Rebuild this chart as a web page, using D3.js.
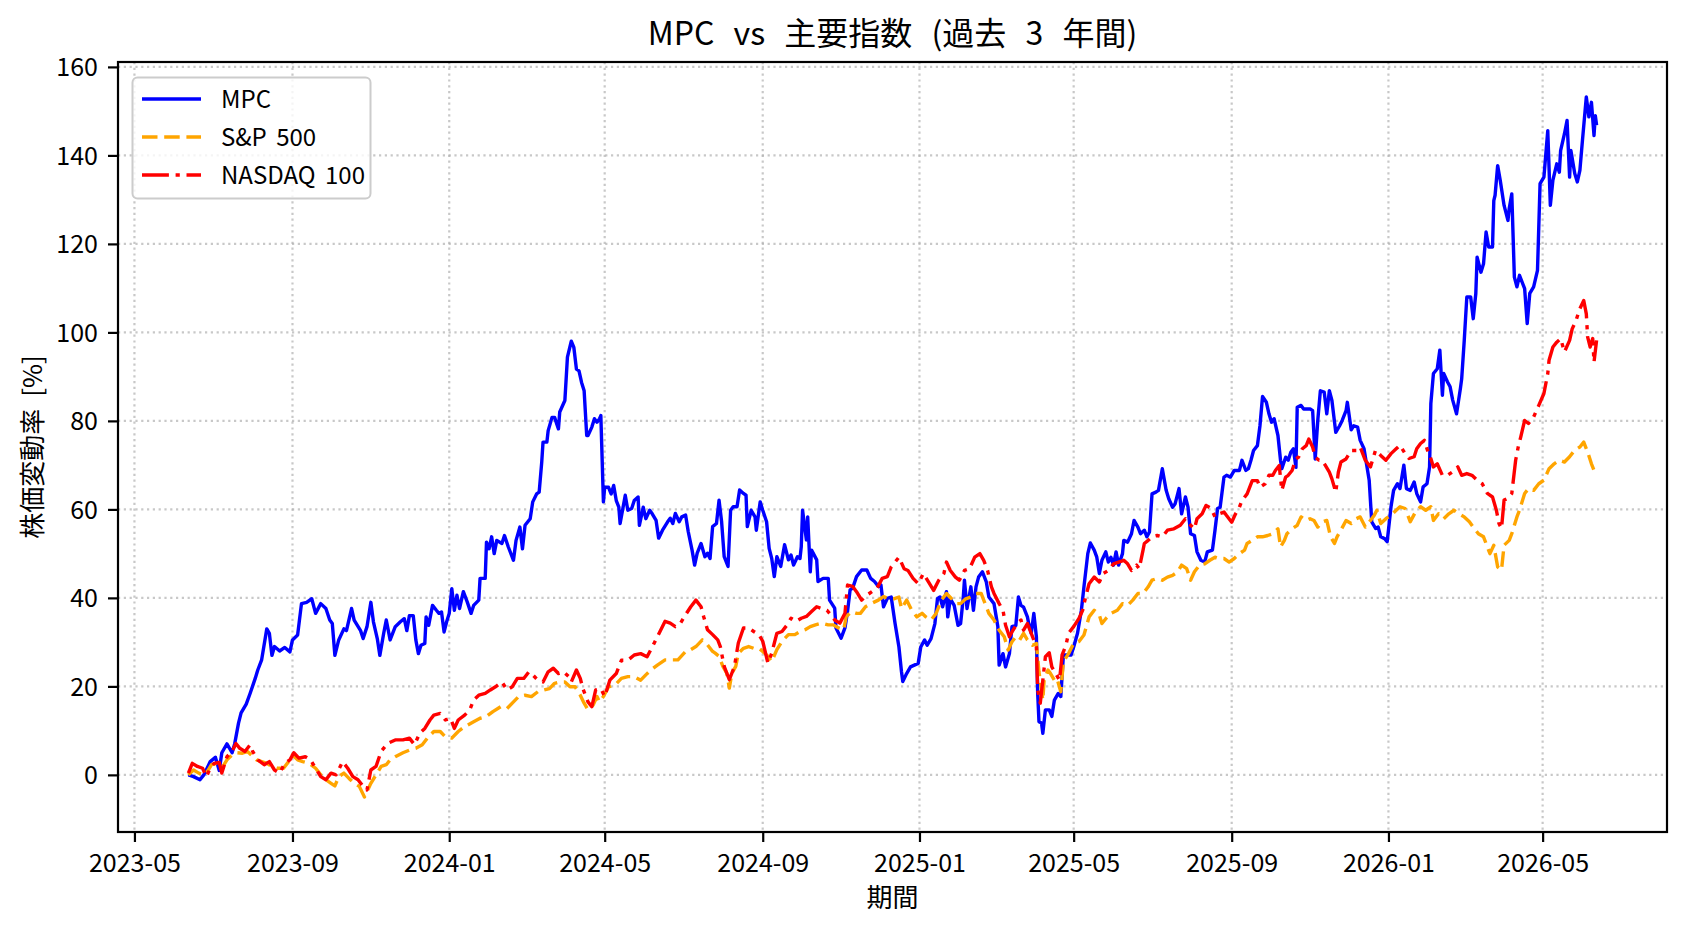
<!DOCTYPE html>
<html><head><meta charset="utf-8">
<script src="https://cdn.jsdelivr.net/npm/d3@7"></script>
<style>body{margin:0;background:#fff}svg{display:block}</style>
</head><body>
<svg id="chart" width="1688" height="932"></svg>
<script>
const titleText = "MPC vs 主要指数 (過去 3 年間)";
const xLabelText = "期間";
const yLabelText = "株価変動率 [%]";
const seriesNames = ["MPC", "S&P 500", "NASDAQ 100"];
const yTickValues = [0, 20, 40, 60, 80, 100, 120, 140, 160];
const xTickDates = ["2023-05-01","2023-09-01","2024-01-01","2024-05-01","2024-09-01","2025-01-01","2025-05-01","2025-09-01","2026-01-01","2026-05-01"];

const mpcData = [
["2023-06-12",0],["2023-06-16",-0.4],["2023-06-21",-1.1],["2023-06-24",0],["2023-06-29",3],["2023-07-03",4],["2023-07-06",1],["2023-07-08",5],["2023-07-12",7],["2023-07-16",5],["2023-07-18",7],["2023-07-21",11.7],["2023-07-23",14],["2023-07-27",16],["2023-07-30",18.4],["2023-08-03",21.8],["2023-08-05",23.7],["2023-08-08",26],["2023-08-12",33],["2023-08-14",32],["2023-08-16",27],["2023-08-18",29],["2023-08-22",28],["2023-08-26",28.8],["2023-08-30",27.8],["2023-09-01",30.5],["2023-09-05",31.6],["2023-09-08",38.7],["2023-09-12",39],["2023-09-16",39.8],["2023-09-19",36.5],["2023-09-23",38.7],["2023-09-27",37.6],["2023-09-30",35],["2023-10-02",34.2],["2023-10-04",27],["2023-10-07",30.5],["2023-10-11",33],["2023-10-13",32.6],["2023-10-17",37.6],["2023-10-19",35],["2023-10-24",32.6],["2023-10-26",30.8],["2023-10-29",33.5],["2023-11-01",39],["2023-11-03",34.6],["2023-11-06",30.8],["2023-11-08",27],["2023-11-11",32],["2023-11-13",35],["2023-11-16",30.5],["2023-11-20",33.5],["2023-11-24",34.6],["2023-11-27",35.3],["2023-11-29",32.6],["2023-12-01",36],
["2023-12-04",36],["2023-12-06",30.5],["2023-12-08",27.4],["2023-12-10",29.3],["2023-12-13",29.7],["2023-12-14",35.7],["2023-12-16",33.8],["2023-12-19",38.3],["2023-12-22",37.2],["2023-12-24",36.5],["2023-12-26",36.8],["2023-12-28",32.3],["2023-12-30",34.6],["2024-01-01",36.5],["2024-01-03",42.1],["2024-01-05",37.2],["2024-01-07",40.6],["2024-01-09",37.6],["2024-01-12",41.4],["2024-01-15",39.1],["2024-01-18",36.5],["2024-01-20",38.3],["2024-01-24",39.5],["2024-01-25",44.4],["2024-01-29",44.4],["2024-01-30",52.6],["2024-02-01",51.1],["2024-02-03",53.8],["2024-02-05",50],["2024-02-07",53],["2024-02-11",52.3],["2024-02-13",54.1],["2024-02-16",51.5],["2024-02-20",48.5],["2024-02-22",53],["2024-02-25",56],["2024-02-27",51.1],["2024-02-29",56.4],["2024-03-04",57.9],["2024-03-06",61.7],["2024-03-09",63.5],["2024-03-11",63.9],["2024-03-13",70.7],["2024-03-14",75.2],["2024-03-17",75.2],["2024-03-18",77.8],["2024-03-21",80.8],["2024-03-23",80.8],["2024-03-26",78.2],["2024-03-27",82],["2024-03-31",84.6],["2024-04-02",94.4],["2024-04-05",98],["2024-04-07",96.6],["2024-04-09",91.7],["2024-04-11",91.3],["2024-04-13",88.7],["2024-04-15",86.8],["2024-04-17",76.7],["2024-04-18",76.7],["2024-04-21",78.6],["2024-04-23",80.5],["2024-04-25",79.7],["2024-04-27",80.5],["2024-04-28",81.2],["2024-04-30",61.7],["2024-05-01",65],["2024-05-04",65],["2024-05-06",63.5],["2024-05-08",65.4],["2024-05-10",62],["2024-05-12",60.5],["2024-05-13",56.8],["2024-05-17",63.2],["2024-05-19",59.8],["2024-05-22",60.2],["2024-05-24",62],["2024-05-27",62.8],["2024-05-28",56.4],["2024-05-31",60.5],["2024-06-02",57.9],["2024-06-05",59.8],["2024-06-07",59],["2024-06-10",57.5],
["2024-06-12",53.5],["2024-06-15",55.3],["2024-06-19",57.2],["2024-06-21",58],["2024-06-23",56.8],["2024-06-25",59.1],["2024-06-28",57.2],["2024-06-30",58.3],["2024-07-03",58.7],["2024-07-05",55],["2024-07-08",50.8],["2024-07-10",47.4],["2024-07-12",50.1],["2024-07-15",52.3],["2024-07-18",49.3],["2024-07-20",50.1],["2024-07-22",48.9],["2024-07-24",56.1],["2024-07-27",56.8],["2024-07-29",62.1],["2024-07-31",57.2],["2024-08-02",49.3],["2024-08-05",47.1],["2024-08-07",59.8],["2024-08-09",60.6],["2024-08-12",60.6],["2024-08-14",64.4],["2024-08-17",63.6],["2024-08-19",63.2],["2024-08-20",56.1],["2024-08-23",59.8],["2024-08-26",58.3],["2024-08-27",55.3],["2024-08-30",61.7],["2024-09-01",59.8],["2024-09-04",57.2],["2024-09-06",51.2],["2024-09-08",48.9],["2024-09-10",44.8],["2024-09-12",49.3],["2024-09-15",47.1],["2024-09-18",52],["2024-09-21",48.6],["2024-09-23",49.7],["2024-09-25",47.4],["2024-09-28",49.3],["2024-09-30",48.9],["2024-10-01",51.6],["2024-10-02",59.8],["2024-10-05",53.1],["2024-10-06",58.3],["2024-10-08",45.9],["2024-10-09",50.8],["2024-10-13",48.6],["2024-10-14",43.7],["2024-10-18",44.4],["2024-10-22",44.4],["2024-10-23",39.5],["2024-10-27",37.7],["2024-10-28",33.2],["2024-11-01",30.9],["2024-11-04",33.2],["2024-11-06",36.9],["2024-11-08",41.8],["2024-11-10",42.2],["2024-11-13",44.8],["2024-11-17",46.3],["2024-11-21",46.3],["2024-11-24",44.4],["2024-11-27",43.7],["2024-11-30",42.6],["2024-12-02",42.9],["2024-12-04",38],["2024-12-07",39.9],
["2024-12-10",40.2],["2024-12-13",34.2],["2024-12-16",28.9],["2024-12-18",23.3],["2024-12-19",21.1],["2024-12-22",22.9],["2024-12-25",24.4],["2024-12-28",24.8],["2024-12-31",25.2],["2025-01-02",28.9],["2025-01-05",30.5],["2025-01-07",29.3],["2025-01-10",30.8],["2025-01-13",34.2],["2025-01-15",39.8],["2025-01-17",40.2],["2025-01-19",38],["2025-01-22",41.4],["2025-01-23",35.7],["2025-01-25",39.8],["2025-01-28",38.3],["2025-01-31",33.8],["2025-02-02",34.2],["2025-02-04",39.8],["2025-02-05",44],["2025-02-07",37.6],["2025-02-10",42.5],["2025-02-12",37.2],["2025-02-14",42.5],["2025-02-16",44.7],["2025-02-19",45.9],["2025-02-22",43.6],["2025-02-24",40.2],["2025-02-28",38.7],["2025-03-03",33.5],["2025-03-04",24.8],["2025-03-07",27.4],["2025-03-09",24.4],["2025-03-12",27.4],["2025-03-14",33.5],["2025-03-17",33.8],["2025-03-19",40.2],["2025-03-21",38.3],["2025-03-23",37.9],["2025-03-26",35.7],["2025-03-27",34.2],["2025-03-29",32],["2025-03-31",36.5],["2025-04-02",31.2],["2025-04-03",18.4],["2025-04-04",12],["2025-04-06",11.7],["2025-04-07",9.4],["2025-04-09",14.7],["2025-04-12",14.7],["2025-04-14",13.2],["2025-04-16",16.9],["2025-04-19",18.4],["2025-04-21",17.7],["2025-04-23",27.1],["2025-04-26",27.1],["2025-04-29",27.1],["2025-05-01",28.9],["2025-05-04",32],["2025-05-07",37.2],["2025-05-09",42.5],["2025-05-12",50],["2025-05-14",52.4],["2025-05-17",50.8],["2025-05-19",49.2],["2025-05-21",45.5],["2025-05-23",48.5],["2025-05-26",50.4],["2025-05-28",48.1],["2025-05-30",49.2],["2025-06-01",47.4],["2025-06-03",50.4],["2025-06-05",47.4],["2025-06-08",50],["2025-06-09",53],
["2025-06-12",52.6],["2025-06-15",54.5],["2025-06-17",57.5],["2025-06-20",56],["2025-06-22",54.5],["2025-06-25",55.3],["2025-06-27",53.8],["2025-06-29",54.9],["2025-07-01",63.5],["2025-07-04",63.9],["2025-07-06",64.3],["2025-07-09",69.2],["2025-07-12",64.3],["2025-07-14",62.4],["2025-07-17",60.5],["2025-07-19",61.3],["2025-07-22",64.7],["2025-07-24",59],["2025-07-27",62.8],["2025-07-29",60.5],["2025-07-31",54.5],["2025-08-03",54.1],["2025-08-05",50.4],["2025-08-08",48.5],["2025-08-11",48.1],["2025-08-13",50.4],["2025-08-17",50.8],["2025-08-19",55.3],["2025-08-21",60.2],["2025-08-23",60.5],["2025-08-26",67.3],["2025-08-28",67.7],["2025-08-31",67.3],["2025-09-03",68.8],["2025-09-07",68.8],["2025-09-09",71.1],["2025-09-12",68.8],["2025-09-14",69.2],["2025-09-16",71.1],["2025-09-18",73.3],["2025-09-21",74.4],["2025-09-23",78.9],["2025-09-25",85.5],["2025-09-28",84.2],["2025-09-30",81.6],["2025-10-02",79.7],["2025-10-04",80.5],["2025-10-07",76.7],["2025-10-09",71.1],["2025-10-10",69.2],["2025-10-13",71.8],["2025-10-15",71.1],["2025-10-17",72.9],["2025-10-19",73.7],["2025-10-21",69.5],["2025-10-22",83.1],["2025-10-25",83.5],["2025-10-27",82.7],["2025-10-30",82.7],["2025-11-01",82.7],["2025-11-03",82.3],["2025-11-05",71.4],["2025-11-07",80.1],["2025-11-09",86.8],["2025-11-12",86.5],["2025-11-14",81.6],["2025-11-16",86.8],["2025-11-18",84.6],["2025-11-21",77.4],["2025-11-24",78.9],["2025-11-26",80.1],["2025-11-29",82.3],["2025-11-30",84.2],["2025-12-03",78],["2025-12-05",78.9],["2025-12-08",78.6],["2025-12-10",75.6],["2025-12-13",73.7],
["2025-12-17",66.6],["2025-12-19",57.2],["2025-12-22",55.7],["2025-12-24",56],["2025-12-26",53.8],["2025-12-29",53.4],["2025-12-31",52.7],["2026-01-01",55.3],["2026-01-03",60.6],["2026-01-05",64.3],["2026-01-08",65.8],["2026-01-10",64.7],["2026-01-13",70],["2026-01-15",64.7],["2026-01-18",64.3],["2026-01-21",66.2],["2026-01-23",63.6],["2026-01-26",61.7],["2026-01-28",65.1],["2026-01-31",65.8],["2026-02-02",69.6],["2026-02-03",83.9],["2026-02-05",90.7],["2026-02-08",91.8],["2026-02-10",96],["2026-02-12",85.8],["2026-02-13",90.7],["2026-02-16",88.8],["2026-02-18",87.7],["2026-02-20",84.7],["2026-02-23",81.6],["2026-02-26",87.3],["2026-02-27",89.5],["2026-03-01",98.2],["2026-03-03",108],["2026-03-06",108],["2026-03-08",103.1],["2026-03-10",108.8],["2026-03-11",117],["2026-03-14",113.6],["2026-03-16",115.5],["2026-03-18",122.7],["2026-03-20",119.3],["2026-03-23",119.3],["2026-03-24",129.8],["2026-03-25",131],["2026-03-27",137.7],["2026-03-29",134.4],["2026-04-01",128.7],["2026-04-04",125.3],["2026-04-05",128],["2026-04-07",131.3],["2026-04-09",112.5],["2026-04-11",110.3],["2026-04-13",112.9],["2026-04-17",109.9],["2026-04-19",102],["2026-04-21",108.8],["2026-04-24",110.3],["2026-04-27",114],["2026-04-29",133.6],["2026-05-02",135.1],["2026-05-05",145.6],["2026-05-07",128.7],["2026-05-09",134.4],["2026-05-12",138.1],["2026-05-14",136.2],["2026-05-15",141.1],["2026-05-18",144.9],["2026-05-20",147.9],["2026-05-22",135.1],["2026-05-23",141.1],["2026-05-26",135.9],["2026-05-28",134],["2026-05-30",136.6],["2026-06-01",143.4],["2026-06-04",153.2],["2026-06-06",148.7],["2026-06-08",152],["2026-06-10",144.5],["2026-06-11",149],["2026-06-12",146.8]
];

const spData = [
["2023-06-12",0],["2023-06-16",1.1],["2023-06-20",0.4],["2023-06-24",0],["2023-06-26",0.4],["2023-06-30",2.3],["2023-07-04",2.6],["2023-07-08",1.5],["2023-07-12",3.4],["2023-07-16",4.5],["2023-07-20",5],["2023-07-24",4.9],["2023-07-28",5.3],["2023-07-31",4.5],["2023-08-04",3.4],["2023-08-08",3],["2023-08-12",2.6],["2023-08-16",1.9],["2023-08-20",1.5],["2023-08-25",1.5],["2023-08-29",3],["2023-09-01",4.5],["2023-09-05",3.4],["2023-09-09",3],["2023-09-14",2.6],["2023-09-19",1.5],["2023-09-23",0],["2023-09-27",-1.1],["2023-10-01",-1.9],["2023-10-04",-2.5],["2023-10-07",-0.4],["2023-10-11",0.4],["2023-10-15",-0.8],["2023-10-19",-1.9],["2023-10-23",-2.6],["2023-10-27",-5],["2023-10-29",-3.8],["2023-11-01",-1.9],["2023-11-05",0],["2023-11-09",1.9],["2023-11-13",2.3],["2023-11-16",3.4],["2023-11-20",4.1],["2023-11-26",5],["2023-12-01",5.6],
["2023-12-06",6],["2023-12-11",6.8],["2023-12-15",8.3],["2023-12-20",9.8],["2023-12-25",9.8],["2023-12-29",8.6],["2024-01-03",8.3],["2024-01-08",9.8],["2024-01-13",10.9],["2024-01-20",12],["2024-01-25",12.8],["2024-01-30",13.2],["2024-02-04",14.3],["2024-02-10",15.4],["2024-02-15",15],["2024-02-20",16.5],["2024-02-24",17.7],["2024-02-29",18],["2024-03-05",17.7],["2024-03-10",18.8],["2024-03-15",19.2],["2024-03-19",19.5],["2024-03-23",20.7],["2024-03-27",21],["2024-03-31",21],["2024-04-04",19.9],["2024-04-08",19.9],["2024-04-12",18],["2024-04-15",16.2],["2024-04-18",14.7],["2024-04-22",15.8],["2024-04-25",17.7],["2024-04-27",16.5],["2024-04-30",17.7],["2024-05-04",19.9],["2024-05-09",20.3],["2024-05-14",21.8],["2024-05-19",22.2],["2024-05-24",22.2],["2024-05-29",21.4],["2024-06-02",22.6],["2024-06-06",23.7],["2024-06-11",24.8],
["2024-06-17",26],["2024-06-22",26],["2024-06-27",26],["2024-07-03",27.9],["2024-07-07",28.3],["2024-07-11",29],["2024-07-16",30.5],["2024-07-20",29.4],["2024-07-24",27.9],["2024-07-26",27.5],["2024-07-29",26.8],["2024-08-01",24.5],["2024-08-04",23],["2024-08-06",19.6],["2024-08-08",23],["2024-08-11",24.5],["2024-08-13",27.5],["2024-08-17",28.6],["2024-08-21",29],["2024-08-25",28.6],["2024-08-29",28.6],["2024-09-01",27.9],["2024-09-05",26.8],["2024-09-08",25.6],["2024-09-12",28.3],["2024-09-16",30.2],["2024-09-21",31.7],["2024-09-26",31.7],["2024-09-30",32.4],["2024-10-04",32.8],["2024-10-08",33.5],["2024-10-12",33.9],["2024-10-17",34.3],["2024-10-22",33.9],["2024-10-26",33.9],["2024-10-30",33.2],["2024-11-03",32.8],["2024-11-05",35.8],["2024-11-09",36.9],["2024-11-13",36.5],["2024-11-16",36.5],["2024-11-20",38],["2024-11-25",38.8],["2024-11-30",39.5],["2024-12-04",40.3],
["2024-12-08",39.8],["2024-12-12",39.8],["2024-12-16",40.2],["2024-12-18",37.6],["2024-12-22",39.5],["2024-12-26",37.2],["2024-12-30",35.7],["2025-01-03",36.5],["2025-01-06",35.7],["2025-01-10",35],["2025-01-14",36.5],["2025-01-18",39.5],["2025-01-22",41],["2025-01-26",39.8],["2025-01-30",38.7],["2025-02-02",38.7],["2025-02-06",39.8],["2025-02-10",40.2],["2025-02-14",41],["2025-02-18",41],["2025-02-20",39.5],["2025-02-24",36.5],["2025-02-28",35],["2025-03-04",32.7],["2025-03-08",31.2],["2025-03-11",28.2],["2025-03-14",30.1],["2025-03-17",31.2],["2025-03-20",30.5],["2025-03-23",32],["2025-03-26",30.5],["2025-03-30",29.3],["2025-04-02",29.7],["2025-04-04",23.3],["2025-04-07",16.9],["2025-04-08",21.4],["2025-04-11",23.7],["2025-04-13",22.9],["2025-04-16",21.4],["2025-04-18",21.8],["2025-04-21",18.8],["2025-04-23",25.6],["2025-04-27",27.4],["2025-05-01",29.7],["2025-05-05",30.1],["2025-05-09",31.6],["2025-05-13",35.7],["2025-05-17",37.2],["2025-05-21",36.1],["2025-05-23",34.2],["2025-05-26",35.3],["2025-05-30",36.5],["2025-06-04",37.2],["2025-06-08",38.7],
["2025-06-12",38.3],["2025-06-16",39.5],["2025-06-20",41],["2025-06-24",41],["2025-06-28",42.5],["2025-07-01",44],["2025-07-05",44.4],["2025-07-09",44],["2025-07-13",44.7],["2025-07-17",45.1],["2025-07-21",45.9],["2025-07-24",47.4],["2025-07-28",46.6],["2025-07-31",44],["2025-08-03",45.9],["2025-08-07",47.4],["2025-08-11",47.7],["2025-08-15",48.5],["2025-08-19",49.2],["2025-08-22",48.9],["2025-08-26",48.9],["2025-08-30",48.1],["2025-09-03",48.9],["2025-09-07",50],["2025-09-11",50.8],["2025-09-13",52.3],["2025-09-17",53],["2025-09-21",53.8],["2025-09-25",53.8],["2025-09-29",54.1],["2025-10-03",54.5],["2025-10-07",55.6],["2025-10-09",51.5],["2025-10-12",53],["2025-10-14",54.5],["2025-10-18",55.6],["2025-10-22",56.4],["2025-10-25",58.3],["2025-10-29",57.5],["2025-11-01",57.9],["2025-11-04",57.5],["2025-11-07",56],["2025-11-10",57.1],["2025-11-14",57.5],["2025-11-17",53.8],["2025-11-20",52.3],["2025-11-22",53.8],["2025-11-25",55.3],["2025-11-29",57.5],["2025-12-03",56.8],["2025-12-07",57.9],["2025-12-10",58.3],["2025-12-14",56],
["2025-12-18",57.5],["2025-12-21",58.7],["2025-12-23",59.8],["2025-12-26",56.8],["2025-12-30",57.9],["2026-01-03",58.7],["2026-01-07",59.8],["2026-01-10",60.6],["2026-01-14",60.2],["2026-01-18",57.2],["2026-01-22",59.4],["2026-01-26",60.6],["2026-01-30",59.8],["2026-02-03",60.6],["2026-02-05",57.5],["2026-02-09",59],["2026-02-13",57.9],["2026-02-17",59],["2026-02-21",59.8],["2026-02-25",59],["2026-03-01",58.3],["2026-03-05",57.2],["2026-03-08",56],["2026-03-12",54.5],["2026-03-16",53.8],["2026-03-19",51.5],["2026-03-21",50],["2026-03-24",51.9],["2026-03-27",47],["2026-03-30",46.3],["2026-04-01",51.9],["2026-04-05",53],["2026-04-07",54.5],["2026-04-11",58.3],["2026-04-13",59.8],["2026-04-17",63.6],["2026-04-20",64.7],["2026-04-24",64.3],["2026-04-28",65.8],["2026-05-02",66.6],["2026-05-06",69.2],["2026-05-10",70.3],["2026-05-14",71.1],["2026-05-18",70.7],["2026-05-22",71.9],["2026-05-26",73.4],["2026-05-30",74.1],["2026-06-02",75.2],["2026-06-05",73],["2026-06-08",70.3],["2026-06-10",68.8],["2026-06-12",68.1]
];

const ndxData = [
["2023-06-12",0.4],["2023-06-15",2.6],["2023-06-19",1.9],["2023-06-23",1.5],["2023-06-26",-0.4],["2023-06-29",1.5],["2023-07-02",2.6],["2023-07-06",2.8],["2023-07-08",0.4],["2023-07-12",4.1],["2023-07-16",5.3],["2023-07-19",7.1],["2023-07-22",6],["2023-07-26",5.3],["2023-07-30",6.8],["2023-08-01",5.3],["2023-08-05",3.4],["2023-08-10",2.3],["2023-08-14",3],["2023-08-18",1.1],["2023-08-22",0.4],["2023-08-26",2.6],["2023-08-30",3.4],["2023-09-02",5],["2023-09-06",3.8],["2023-09-11",4.1],["2023-09-15",3.4],["2023-09-19",1.5],["2023-09-23",-0.4],["2023-09-27",-1.1],["2023-10-01",0.4],["2023-10-05",0],["2023-10-10",3],["2023-10-14",1.5],["2023-10-18",-0.4],["2023-10-22",-1.1],["2023-10-26",-2.6],["2023-10-29",-3.4],["2023-11-01",1.1],["2023-11-05",1.9],["2023-11-09",5.3],["2023-11-14",7.1],["2023-11-20",7.9],["2023-11-26",7.9],["2023-12-01",8.3],
["2023-12-05",6.8],["2023-12-09",9.4],["2023-12-13",10.5],["2023-12-17",12.4],["2023-12-20",13.5],["2023-12-25",13.9],["2023-12-29",12.4],["2024-01-02",12.8],["2024-01-05",10.5],["2024-01-08",12.4],["2024-01-13",13.5],["2024-01-17",14.7],["2024-01-20",16.9],["2024-01-24",18],["2024-01-29",18.4],["2024-02-02",19.2],["2024-02-06",19.9],["2024-02-11",21],["2024-02-15",19.2],["2024-02-19",19.9],["2024-02-23",21.8],["2024-02-28",21.8],["2024-03-03",23.3],["2024-03-06",22.6],["2024-03-10",21.4],["2024-03-14",21],["2024-03-18",23.3],["2024-03-22",24.1],["2024-03-26",22.9],["2024-03-30",23.3],["2024-04-03",22.2],["2024-04-05",21],["2024-04-09",23.7],["2024-04-12",21.8],["2024-04-14",19.5],["2024-04-18",16.5],["2024-04-21",15.4],["2024-04-24",19.2],["2024-04-28",19.5],["2024-05-01",17.7],["2024-05-05",21.4],["2024-05-10",22.9],["2024-05-14",25.9],["2024-05-19",25.9],["2024-05-24",27.1],["2024-05-29",27.4],["2024-06-03",26.7],["2024-06-07",28.9],["2024-06-11",31.2],
["2024-06-17",34.7],["2024-06-21",34.3],["2024-06-25",33.5],["2024-06-29",34.3],["2024-07-03",36.2],["2024-07-07",38],["2024-07-11",39.5],["2024-07-15",38],["2024-07-17",35.8],["2024-07-20",32.8],["2024-07-24",31.7],["2024-07-28",30.5],["2024-07-30",29],["2024-08-02",24.5],["2024-08-06",21.5],["2024-08-10",24.5],["2024-08-13",29.8],["2024-08-17",33.2],["2024-08-21",33.2],["2024-08-25",32.4],["2024-08-29",31.7],["2024-09-01",30.2],["2024-09-05",25.3],["2024-09-08",27.5],["2024-09-12",32],["2024-09-16",32.4],["2024-09-20",33.9],["2024-09-23",35.4],["2024-09-27",34.7],["2024-10-01",35.4],["2024-10-05",35.8],["2024-10-09",36.9],["2024-10-13",38],["2024-10-17",37.6],["2024-10-21",37.2],["2024-10-25",35.8],["2024-10-27",35],["2024-10-31",34.3],["2024-11-04",36.5],["2024-11-06",42.9],["2024-11-10",42.6],["2024-11-13",41.4],["2024-11-17",39.5],["2024-11-21",40.6],["2024-11-25",41.4],["2024-11-29",42.2],["2024-12-03",44.4],["2024-12-07",44.8],
["2024-12-10",47],["2024-12-16",49.2],["2024-12-20",46.6],["2024-12-23",46.2],["2024-12-27",44.4],["2024-12-31",43.2],["2025-01-04",45.5],["2025-01-08",43.6],["2025-01-12",41.7],["2025-01-16",44],["2025-01-20",45.5],["2025-01-22",48.1],["2025-01-25",46.2],["2025-01-29",44.7],["2025-02-01",44],["2025-02-05",46.2],["2025-02-09",46.6],["2025-02-13",49.2],["2025-02-17",50],["2025-02-20",48.5],["2025-02-23",46.2],["2025-02-26",42.5],["2025-02-28",41],["2025-03-04",38.7],["2025-03-07",37.2],["2025-03-09",33.8],["2025-03-12",31.2],["2025-03-14",32.3],["2025-03-18",34.2],["2025-03-21",35],["2025-03-23",32.7],["2025-03-26",34.2],["2025-03-29",32],["2025-04-02",28.9],["2025-04-03",19.2],["2025-04-05",16.2],["2025-04-07",21.4],["2025-04-09",26.7],["2025-04-12",27.6],["2025-04-14",24.4],["2025-04-17",22.9],["2025-04-20",21.4],["2025-04-22",27.1],["2025-04-25",29.3],["2025-04-27",32],["2025-05-01",33.5],["2025-05-05",35.3],["2025-05-08",37.2],["2025-05-10",39.8],["2025-05-13",43.2],["2025-05-17",44.7],["2025-05-21",43.6],["2025-05-24",45.5],["2025-05-28",46.2],["2025-06-01",47.7],["2025-06-05",48.1],["2025-06-09",48.5],
["2025-06-12",47.7],["2025-06-15",46.2],["2025-06-19",47.4],["2025-06-21",46.6],["2025-06-24",50.8],["2025-06-25",52.3],["2025-06-28",53],["2025-07-01",53.8],["2025-07-05",54.1],["2025-07-09",53.8],["2025-07-13",55.3],["2025-07-18",55.6],["2025-07-23",56.4],["2025-07-27",57.9],["2025-07-31",56.4],["2025-08-03",55.6],["2025-08-05",57.9],["2025-08-09",59],["2025-08-12",60.9],["2025-08-16",60.2],["2025-08-19",58.3],["2025-08-22",59],["2025-08-26",59.4],["2025-08-28",58.6],["2025-09-01",57.1],["2025-09-04",59],["2025-09-07",60.5],["2025-09-09",62],["2025-09-13",63.5],["2025-09-17",66.5],["2025-09-21",66.5],["2025-09-23",65],["2025-09-27",65.8],["2025-09-30",67.7],["2025-10-03",67.7],["2025-10-05",68.8],["2025-10-08",69.9],["2025-10-10",64.3],["2025-10-13",67.3],["2025-10-15",67.7],["2025-10-18",68.8],["2025-10-21",71.4],["2025-10-23",71.8],["2025-10-26",73.7],["2025-10-29",74.4],["2025-10-31",75.9],["2025-11-03",74.1],["2025-11-05",71.8],["2025-11-08",71.1],["2025-11-10",71.1],["2025-11-13",69.9],["2025-11-16",68.4],["2025-11-18",66.9],["2025-11-21",63.9],["2025-11-23",68.4],["2025-11-25",70.7],["2025-11-29",71.4],["2025-12-03",73.3],["2025-12-07",73.3],["2025-12-10",74.1],["2025-12-14",71.1],
["2025-12-18",69.6],["2025-12-22",73.4],["2025-12-26",72.2],["2025-12-30",71.1],["2026-01-03",72.6],["2026-01-07",73.7],["2026-01-10",74.5],["2026-01-14",72.6],["2026-01-17",71.5],["2026-01-21",71.9],["2026-01-23",73.7],["2026-01-26",74.9],["2026-01-29",75.6],["2026-01-31",73.7],["2026-02-03",71.5],["2026-02-05",69.6],["2026-02-08",70.3],["2026-02-12",67.7],["2026-02-16",67.7],["2026-02-20",68.5],["2026-02-24",69.6],["2026-02-27",67.7],["2026-03-03",68.1],["2026-03-07",67.7],["2026-03-11",66.6],["2026-03-15",65.8],["2026-03-19",63.6],["2026-03-23",62.8],["2026-03-26",59.8],["2026-03-28",56.8],["2026-03-30",55.7],["2026-04-01",62.1],["2026-04-04",62.5],["2026-04-07",63.6],["2026-04-10",71.1],["2026-04-12",74.1],["2026-04-14",76.4],["2026-04-17",80.1],["2026-04-20",79.4],["2026-04-24",80.9],["2026-04-28",83.5],["2026-05-02",86.2],["2026-05-05",90.7],["2026-05-06",93.7],["2026-05-09",96.7],["2026-05-12",97.8],["2026-05-15",98.6],["2026-05-18",95.6],["2026-05-22",98.2],["2026-05-24",100.8],["2026-05-27",102.7],["2026-05-30",105.4],["2026-06-02",107.2],["2026-06-04",104.2],["2026-06-05",99],["2026-06-07",96.7],["2026-06-09",98.6],["2026-06-10",93.3],["2026-06-12",98.2]
];

const seriesColors = ["#0000ff", "#ffa500", "#ff0000"];
const seriesDashes = [null, "15.5,6.7", "26.9,6.7,4.2,6.7"];

const FONT = "'Noto Sans CJK JP', 'Noto Sans', sans-serif";
const W = 1688, H = 932;
const M = {left: 118, right: 1667, top: 62, bottom: 832};

const parse = d3.timeParse("%Y-%m-%d");
const allSeries = [mpcData, spData, ndxData].map((arr, i) => ({
  name: seriesNames[i], color: seriesColors[i], dash: seriesDashes[i],
  values: arr.map(d => ({date: parse(d[0]), value: d[1]})).sort((a, b) => a.date - b.date)
}));

const allPts = allSeries.flatMap(s => s.values);
const [dMin, dMax] = d3.extent(allPts, d => d.date);
const dPad = (dMax - dMin) * 0.05;
const [vMin, vMax] = d3.extent(allPts, d => d.value);
const vPad = (vMax - vMin) * 0.05;

const x = d3.scaleTime().domain([new Date(+dMin - dPad), new Date(+dMax + dPad)]).range([M.left, M.right]);
const y = d3.scaleLinear().domain([vMin - vPad, vMax + vPad]).range([M.bottom, M.top]);

const svg = d3.select("#chart");
svg.append("rect").attr("width", W).attr("height", H).attr("fill", "#fff");

// grid
const grid = svg.append("g");
xTickDates.map(parse).forEach(d => {
  grid.append("line").attr("x1", x(d)).attr("x2", x(d)).attr("y1", M.top).attr("y2", M.bottom)
    .attr("stroke", "#b0b0b0").attr("stroke-opacity", 0.7).attr("stroke-width", 2.2).attr("stroke-dasharray", "2.2,3.6");
});
yTickValues.forEach(v => {
  grid.append("line").attr("x1", M.left).attr("x2", M.right).attr("y1", y(v)).attr("y2", y(v))
    .attr("stroke", "#b0b0b0").attr("stroke-opacity", 0.7).attr("stroke-width", 2.2).attr("stroke-dasharray", "2.2,3.6");
});

// lines
const line = d3.line().x(d => x(d.date)).y(d => y(d.value));
svg.append("defs").append("clipPath").attr("id", "clip").append("rect")
  .attr("x", M.left).attr("y", M.top).attr("width", M.right - M.left).attr("height", M.bottom - M.top);
const lines = svg.append("g").attr("clip-path", "url(#clip)");
allSeries.forEach(s => {
  lines.append("path").attr("d", line(s.values)).attr("fill", "none")
    .attr("stroke", s.color).attr("stroke-width", 3.4)
    .attr("stroke-linejoin", "round")
    .attr("stroke-dasharray", s.dash);
});

// axes
const xAxis = d3.axisBottom(x).tickValues(xTickDates.map(parse)).tickFormat(d3.timeFormat("%Y-%m"))
  .tickSize(10).tickSizeOuter(0).tickPadding(6);
const gx = svg.append("g").attr("transform", `translate(0,${M.bottom})`).call(xAxis);
gx.select(".domain").remove();
gx.selectAll(".tick line").attr("stroke", "#000").attr("stroke-width", 2.2);
gx.selectAll(".tick text").attr("font-family", FONT).attr("font-size", 25).attr("fill", "#000")
  .attr("dy", null).attr("y", 40);

const yAxis = d3.axisLeft(y).tickValues(yTickValues).tickFormat(d3.format("d"))
  .tickSize(10).tickSizeOuter(0).tickPadding(10);
const gy = svg.append("g").attr("transform", `translate(${M.left},0)`).call(yAxis);
gy.select(".domain").remove();
gy.selectAll(".tick line").attr("stroke", "#000").attr("stroke-width", 2.2);
gy.selectAll(".tick text").attr("font-family", FONT).attr("font-size", 25).attr("fill", "#000")
  .attr("dy", "0.36em");

// spines
svg.append("rect").attr("x", M.left).attr("y", M.top).attr("width", M.right - M.left).attr("height", M.bottom - M.top)
  .attr("fill", "none").attr("stroke", "#000").attr("stroke-width", 2.2);

// title and labels
svg.append("text").attr("x", (M.left + M.right) / 2).attr("y", 45).attr("text-anchor", "middle")
  .attr("font-family", FONT).attr("font-size", 32).attr("word-spacing", 12).attr("fill", "#000").text(titleText);
svg.append("text").attr("x", (M.left + M.right) / 2).attr("y", 907).attr("text-anchor", "middle")
  .attr("font-family", FONT).attr("font-size", 26).attr("fill", "#000").text(xLabelText);
svg.append("text").attr("transform", `translate(42,${(M.top + M.bottom) / 2}) rotate(-90)`).attr("text-anchor", "middle")
  .attr("font-family", FONT).attr("font-size", 26).attr("word-spacing", 6).attr("fill", "#000").text(yLabelText);

// legend
const lg = svg.append("g");
lg.append("rect").attr("x", 132.5).attr("y", 77.5).attr("width", 238).attr("height", 121).attr("rx", 5)
  .attr("fill", "#fff").attr("fill-opacity", 0.8).attr("stroke", "#cccccc").attr("stroke-width", 2);
allSeries.forEach((s, i) => {
  const yy = 99 + i * 38;
  lg.append("line").attr("x1", 142).attr("x2", 201).attr("y1", yy).attr("y2", yy)
    .attr("stroke", s.color).attr("stroke-width", 3.4).attr("stroke-dasharray", s.dash);
  lg.append("text").attr("x", 221).attr("y", yy).attr("dy", "0.36em")
    .attr("font-family", FONT).attr("font-size", 24).attr("word-spacing", 4).attr("fill", "#000").text(s.name);
});
</script>
</body></html>
